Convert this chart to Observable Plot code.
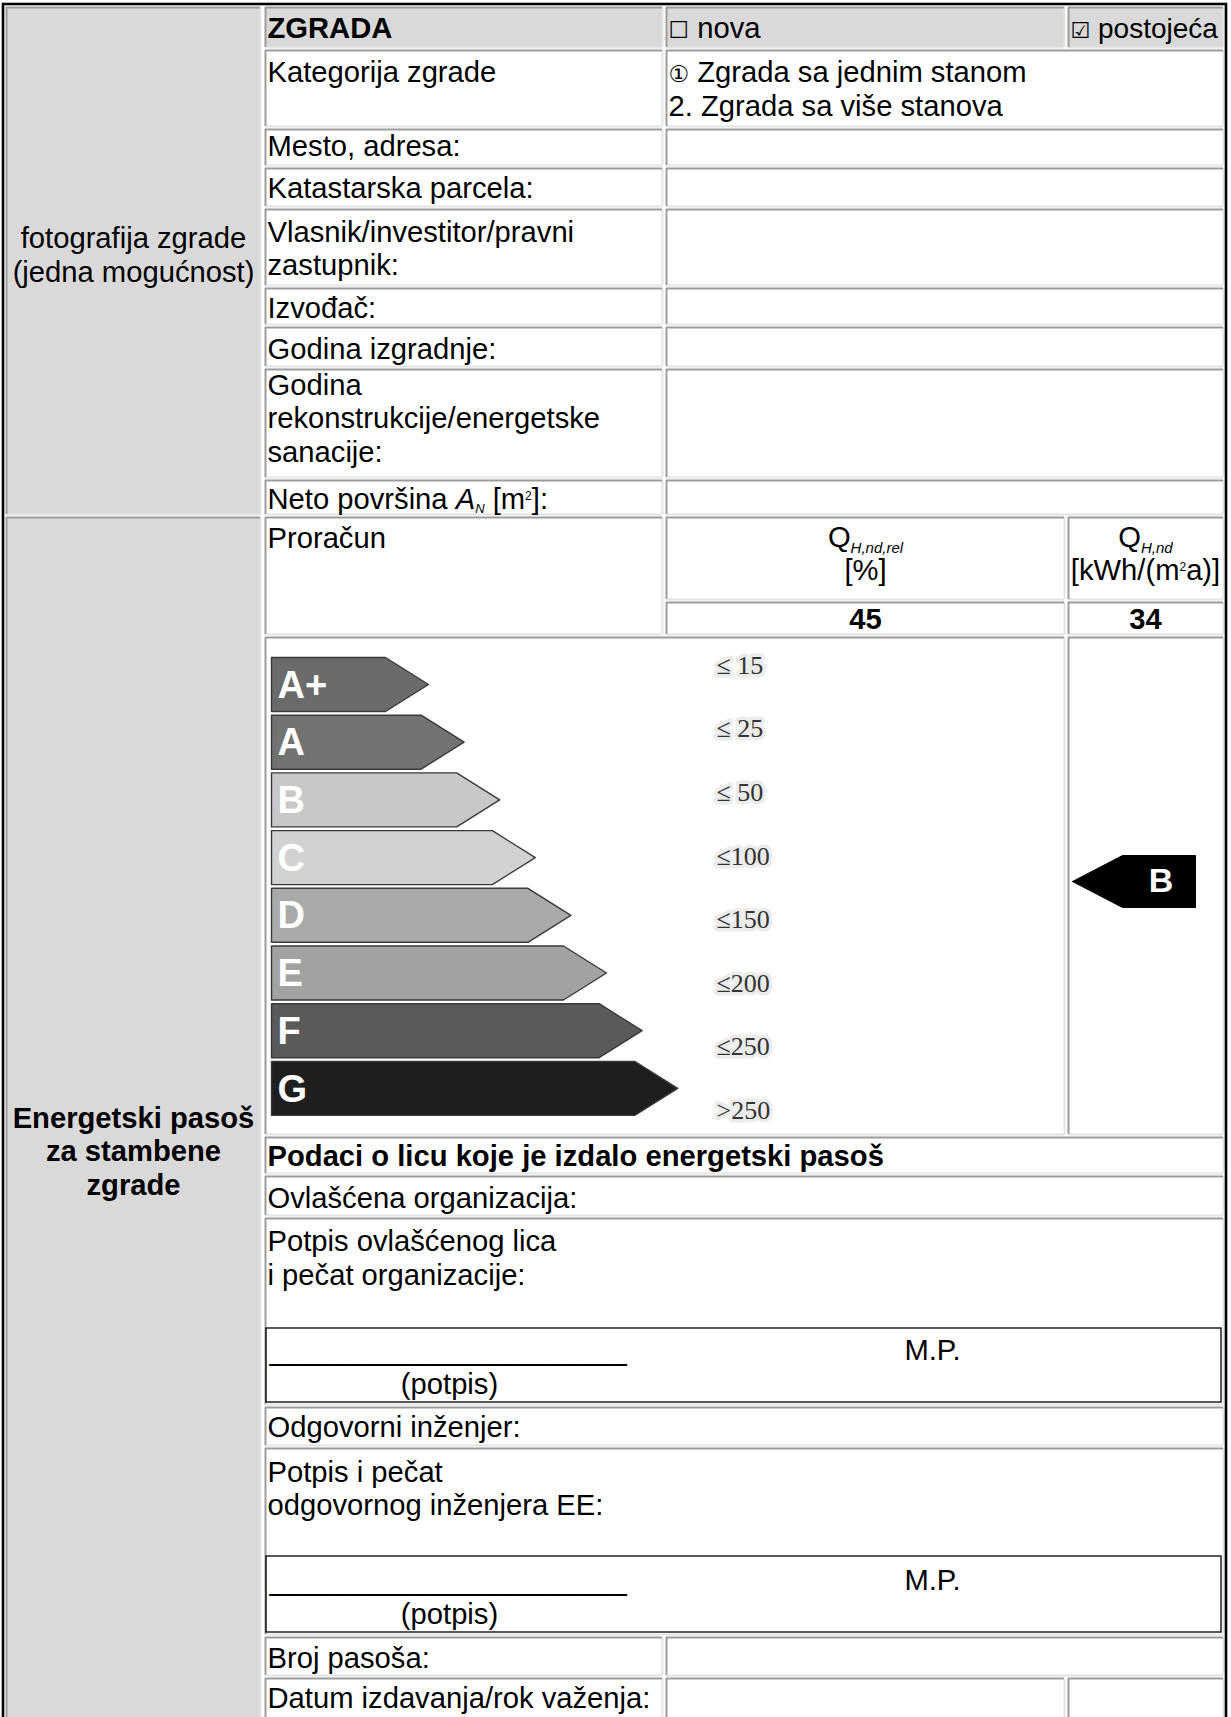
<!DOCTYPE html>
<html>
<head>
<meta charset="utf-8">
<script src="https://cdn.jsdelivr.net/npm/d3@7"></script>
<script src="https://cdn.jsdelivr.net/npm/@observablehq/plot@0.6"></script>
<style>
  html, body { margin: 0; padding: 0; background: #fff; }
  #chart svg { display: block; }
</style>
</head>
<body>
<div id="chart"></div>
<script>
// ---------------- DATA ----------------
const buildingLabel = "ZGRADA";
const buildingStatus = ["☐ nova", "☑ postojeća"];
const categoryLabel = "Kategorija zgrade";
const categoryOptions = ["① Zgrada sa jednim stanom", "2. Zgrada sa više stanova"];
const buildingFields = [
  "Mesto, adresa:",
  "Katastarska parcela:",
  "Vlasnik/investitor/pravni\nzastupnik:",
  "Izvođač:",
  "Godina izgradnje:",
  "Godina\nrekonstrukcije/energetske\nsanacije:",
  "Neto površina AN [m²]:"
];
const photoNote = "fotografija zgrade\n(jedna mogućnost)";
const sectionTitle = "Energetski pasoš\nza stambene\nzgrade";
const calcLabel = "Proračun";
const measureHeads = ["QH,nd,rel\n[%]", "QH,nd\n[kWh/(m²a)]"];
const measureValues = [45, 34];
const energyClasses = ["A+", "A", "B", "C", "D", "E", "F", "G"];
const classLimits = ["≤ 15", "≤ 25", "≤ 50", "≤100", "≤150", "≤200", "≤250", ">250"];
const buildingClass = "B";
const issuerTitle = "Podaci o licu koje je izdalo energetski pasoš";
const issuerFields = [
  "Ovlašćena organizacija:",
  "Potpis ovlašćenog lica\ni pečat organizacije:",
  "Odgovorni inženjer:",
  "Potpis i pečat\nodgovornog inženjera EE:"
];
const signatureTexts = ["______________________", "(potpis)", "M.P."];
const passportFields = ["Broj pasoša:", "Datum izdavanja/rok važenja:"];

// ---------------- LAYOUT & STYLE ----------------
const W = 1231, H = 1717;
const FONT = "Liberation Sans, Arial, Helvetica, sans-serif";
const SERIF = "Liberation Serif, Times New Roman, serif";
const FS = 29.2;
const LH = 33.5 / FS;
const GRAY = "#d9d9d9";
const shades = ["#6b6b6b", "#727272", "#c8c8c8", "#d2d2d2", "#aaaaaa", "#a2a2a2", "#5a5a5a", "#1e1e1e"];
const C = {L1: 6, L2: 260, A1: 265, A2: 662, B1: 666, B2: 1064, N1: 1068, R: 1223};
const ROW = {
  head: [7, 47], kat: [50, 126], f0: [129, 165], f1: [168, 206], f2: [209, 285], f3: [288, 324],
  f4: [327, 366], f5: [369, 477], f6: [480, 514], calc: [517, 599], vals: [602, 634],
  label: [637, 1134], iss: [1137, 1173], i0: [1176, 1215], i1: [1218, 1404], i2: [1407, 1445],
  i3: [1448, 1634], p0: [1637, 1675], p1: [1678, 1722]
};
const cell = (x1, x2, r) => ({x1, x2, y1: r[0], y2: r[1]});
const grayCells = [
  {x1: C.L1, x2: C.L2, y1: 7, y2: 514},
  {x1: C.L1, x2: C.L2, y1: 517, y2: 1722},
  cell(C.A1, C.A2, ROW.head), cell(C.B1, C.B2, ROW.head), cell(C.N1, C.R, ROW.head)
];
const whiteCells = [];
["kat", "f0", "f1", "f2", "f3", "f4", "f5", "f6"].forEach(k => {
  whiteCells.push(cell(C.A1, C.A2, ROW[k]), cell(C.B1, C.R, ROW[k]));
});
whiteCells.push(
  {x1: C.A1, x2: C.A2, y1: ROW.calc[0], y2: ROW.vals[1]},
  cell(C.B1, C.B2, ROW.calc), cell(C.N1, C.R, ROW.calc),
  cell(C.B1, C.B2, ROW.vals), cell(C.N1, C.R, ROW.vals),
  cell(C.A1, C.B2, ROW.label), cell(C.N1, C.R, ROW.label),
  cell(C.A1, C.R, ROW.iss), cell(C.A1, C.R, ROW.i0), cell(C.A1, C.R, ROW.i1),
  cell(C.A1, C.R, ROW.i2), cell(C.A1, C.R, ROW.i3),
  cell(C.A1, C.A2, ROW.p0), cell(C.B1, C.R, ROW.p0),
  cell(C.A1, C.A2, ROW.p1), cell(C.B1, C.B2, ROW.p1), cell(C.N1, C.R, ROW.p1)
);
const allCells = grayCells.concat(whiteCells);
const sigBoxes = [{x1: 266, x2: 1221, y1: 1328, y2: 1402}, {x1: 266, x2: 1221, y1: 1556, y2: 1632}];

// text items (strings from data arrays, positions from layout)
const PX = 267, VX = 668;
const texts = [];
const add = (text, x, y, o = {}) => texts.push({text, x, y, anchor: o.anchor || "start", bold: !!o.bold});
add(photoNote, 133, 254, {anchor: "middle"});
add(sectionTitle, 133, 1150, {anchor: "middle", bold: true});
add(buildingLabel, PX, 27, {bold: true});
add(buildingStatus[0], VX, 27);
add(buildingStatus[1], 1070, 27);
add(categoryLabel, PX, 71);
add(categoryOptions.join("\n"), VX, 88);
const fieldY = [145, 187, 247.5, 307, 348, 417, 498];
buildingFields.forEach((t, i) => add(t, PX, fieldY[i]));
add(calcLabel, PX, 537);
add(measureHeads[0], 865, 552.5, {anchor: "middle"});
add(measureHeads[1], 1145, 552.5, {anchor: "middle"});
add(String(measureValues[0]), 865, 618, {anchor: "middle", bold: true});
add(String(measureValues[1]), 1145, 618, {anchor: "middle", bold: true});
add(issuerTitle, PX, 1155, {bold: true});
const issuerY = [1197, 1257, 1426, 1487.5];
issuerFields.forEach((t, i) => add(t, PX, issuerY[i]));
[1349, 1579].forEach(y => {
  add(signatureTexts[0], 269, y);
  add(signatureTexts[1], 449, y + 34, {anchor: "middle"});
  add(signatureTexts[2], 932, y, {anchor: "middle"});
});
add(passportFields[0], PX, 1657);
add(passportFields[1], PX, 1697);

// energy label arrows
const AR = {left: 271, top: 657, pitch: 57.7, height: 54, tip0: 428, step: 35.6, depth: 43};
const arrowPts = [];
energyClasses.forEach((cls, i) => {
  const t = AR.top + i * AR.pitch, b = t + AR.height, tip = AR.tip0 + i * AR.step, body = tip - AR.depth;
  [[AR.left, t], [body, t], [tip, (t + b) / 2], [body, b], [AR.left, b], [AR.left, t]]
    .forEach(([x, y]) => arrowPts.push({cls, x, y}));
});
const RA = {tip: 1072, body: 1122, right: 1195, top: 855, bottom: 907};
const ratingPts = [[RA.tip, (RA.top + RA.bottom) / 2], [RA.body, RA.top], [RA.right, RA.top], [RA.right, RA.bottom], [RA.body, RA.bottom], [RA.tip, (RA.top + RA.bottom) / 2]]
  .map(([x, y]) => ({x, y}));

const T = (data, o) => Plot.text(data, {x: "x", y: "y", text: "text", fontFamily: FONT, fontSize: FS, lineHeight: LH, fill: "#000", lineAnchor: "middle", ...o});

const chart = Plot.plot({
  width: W, height: H, margin: 0,
  x: {type: "identity", axis: null},
  y: {type: "identity", axis: null},
  color: {domain: energyClasses, range: shades},
  style: {background: "#fff", fontFamily: FONT},
  marks: [
    Plot.rect(grayCells, {x1: "x1", x2: "x2", y1: "y1", y2: "y2", fill: GRAY}),
    Plot.rect(whiteCells, {x1: "x1", x2: "x2", y1: "y1", y2: "y2", fill: "#fff"}),
    // inset cell borders: dark top/left, light bottom/right
    Plot.ruleY(allCells, {y: "y2", x1: "x1", x2: "x2", stroke: "#e4e4e4", strokeWidth: 2}),
    Plot.ruleX(allCells, {x: "x2", y1: "y1", y2: "y2", stroke: "#e4e4e4", strokeWidth: 2}),
    Plot.ruleY(allCells, {y: "y1", x1: "x1", x2: "x2", stroke: "#9c9c9c", strokeWidth: 2}),
    Plot.ruleX(allCells, {x: "x1", y1: "y1", y2: "y2", stroke: "#9c9c9c", strokeWidth: 2}),
    Plot.rect(sigBoxes, {x1: "x1", x2: "x2", y1: "y1", y2: "y2", fill: "none", stroke: "#000", strokeWidth: 1.3}),
    // energy class arrows
    Plot.line(arrowPts, {x: "x", y: "y", z: "cls", fill: "cls", stroke: "#3a3a3a", strokeWidth: 1.4, curve: "linear"}),
    Plot.text(energyClasses, {
      x: AR.left + 6, y: (d, i) => AR.top + i * AR.pitch + AR.height / 2 + 1, text: d => d,
      textAnchor: "start", fill: "#fff", fontWeight: "bold", fontSize: 38, fontFamily: FONT
    }),
    Plot.text(classLimits, {
      x: 716, y: (d, i) => 665 + i * 63.6, text: d => d, textAnchor: "start",
      fill: "#333", stroke: "#ececec", strokeWidth: 7, paintOrder: "stroke", fontSize: 26, fontFamily: SERIF
    }),
    // rating arrow
    Plot.line(ratingPts, {x: "x", y: "y", fill: "#000", stroke: "#000", strokeWidth: 1}),
    Plot.text([buildingClass], {x: (RA.body + RA.right) / 2 + 2, y: (RA.top + RA.bottom) / 2, text: d => d,
      fill: "#fff", fontWeight: "bold", fontSize: 34, fontFamily: FONT}),
    // texts
    T(texts.filter(d => !d.bold && d.anchor === "start"), {textAnchor: "start"}),
    T(texts.filter(d => !d.bold && d.anchor === "middle"), {textAnchor: "middle"}),
    T(texts.filter(d => d.bold && d.anchor === "start"), {textAnchor: "start", fontWeight: "bold"}),
    T(texts.filter(d => d.bold && d.anchor === "middle"), {textAnchor: "middle", fontWeight: "bold"}),
    // outer table border
    Plot.rect([{x1: 3, x2: 1226, y1: 4, y2: 1730}], {x1: "x1", x2: "x2", y1: "y1", y2: "y2", fill: "none", stroke: "#000", strokeWidth: 2.6})
  ]
});

// rich text: subscripts / italics / small symbol glyphs
const NS = "http://www.w3.org/2000/svg";
function rich(node, parts) {
  while (node.firstChild) node.removeChild(node.firstChild);
  parts.forEach(p => {
    if (typeof p === "string") { node.appendChild(document.createTextNode(p)); return; }
    const ts = document.createElementNS(NS, "tspan");
    ts.textContent = p.t;
    if (p.italic) ts.setAttribute("font-style", "italic");
    if (p.size) ts.setAttribute("font-size", p.size);
    if (p.shift) ts.setAttribute("baseline-shift", p.shift);
    if (p.family) ts.setAttribute("font-family", p.family);
    node.appendChild(ts);
  });
}
const glyphFirst = (s, size, restSize) => [
  {t: s.slice(0, 1), size, family: "DejaVu Sans, sans-serif"},
  restSize ? {t: s.slice(1), size: restSize} : s.slice(1)
];
d3.select(chart).selectAll("text, tspan").each(function () {
  if (this.querySelector && this.querySelector("tspan")) return;
  const s = this.textContent;
  if (s === buildingFields[6]) {
    rich(this, ["Neto površina ", {t: "A", italic: true}, {t: "N", italic: true, size: 13, shift: "-4"}, " [m", {t: "2", size: 12, shift: "9"}, "]:"]);
  } else if (s === "QH,nd,rel") {
    rich(this, ["Q", {t: "H,nd,rel", italic: true, size: 15, shift: "-6"}]);
  } else if (s === "QH,nd") {
    rich(this, ["Q", {t: "H,nd", italic: true, size: 15, shift: "-6"}]);
  } else if (s === "[kWh/(m²a)]") {
    rich(this, ["[kWh/(m", {t: "2", size: 12, shift: "9"}, "a)]"]);
  } else if (s === buildingStatus[0]) {
    rich(this, glyphFirst(s, 23));
  } else if (s === buildingStatus[1]) {
    rich(this, glyphFirst(s, 22, 28));
  } else if (s === categoryOptions[0]) {
    rich(this, glyphFirst(s, 23));
  }
});

document.getElementById("chart").appendChild(chart);
</script>
</body>
</html>
